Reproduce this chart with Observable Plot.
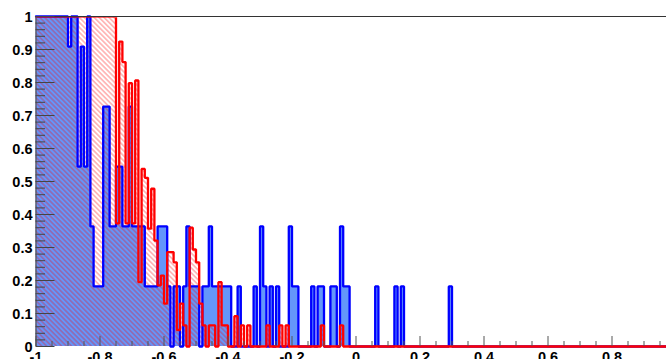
<!DOCTYPE html>
<html><head><meta charset="utf-8">
<script src="https://cdn.jsdelivr.net/npm/d3@7"></script>
<script src="https://cdn.jsdelivr.net/npm/@observablehq/plot@0.6"></script>
<style>
html,body{margin:0;padding:0;background:#fff;overflow:hidden}
#chart svg{display:block}
</style></head><body><div id="chart"></div>
<script>
// Histogram binning: 200 bins of width 0.01 from -1 to 1
const binStart = -1;
const binWidth = 0.01;

// Blue histogram (filled), bin contents
const blue = [
  1,1,1,1,1,1,1,1,1,1, 0.909,1,1,0.545,0.909,0.545,1,0.364,0.182,0.182,
  0.182,0.727,0.727,0.364,0.364,0.545,0.545,0.364,0.364,0.727, 0.364,0.364,0.364,0.364,0.182,0.182,0.182,0.182,0.364,0.364,
  0.364,0.182,0,0.182,0.182,0,0.182,0.364,0.182,0.182, 0.182,0,0.182,0.182,0.364,0.182,0.182,0.182,0.182,0.182,
  0.182,0,0,0.182,0,0,0,0,0.182,0, 0.364,0.182,0,0.182,0,0.182,0,0,0,0.364,
  0.182,0.182,0,0,0,0,0.182,0,0.182,0.182, 0,0,0.182,0.182,0,0.364,0.182,0.182,0,0,
  0,0,0,0,0,0,0.182,0,0,0, 0,0,0.182,0,0.182,0,0,0,0,0,
  0,0,0,0,0,0,0,0,0,0.182, 0,0,0,0,0,0,0,0,0,0,
  0,0,0,0,0,0,0,0,0,0, 0,0,0,0,0,0,0,0,0,0,
  0,0,0,0,0,0,0,0,0,0, 0,0,0,0,0,0,0,0,0,0,
  0,0,0,0,0,0,0,0,0,0, 0,0,0,0,0,0,0,0,0,0
];

// Red histogram (hatched), bin contents
const red = [
  1,1,1,1,1,1,1,1,1,1, 1,1,1,1,1,1,1,1,1,1,
  1,1,1,1,1,0.373,0.924,0.862,0.373,0.798, 0.373,0.806,0.195,0.538,0.511,0.357,0.478,0.321,0.185,0.215,
  0.13,0.286,0.286,0.255,0.05,0.13,0.064,0,0.36,0.294, 0.255,0.13,0.064,0,0.064,0.064,0,0.195,0.064,0.064,
  0,0,0.092,0,0.064,0,0.064,0,0,0, 0,0,0.064,0,0,0,0.064,0,0.064,0,
  0,0,0,0,0,0,0,0,0,0.064, 0,0,0,0,0,0.064,0,0,0,0,
  0,0,0,0,0,0,0,0,0,0, 0,0,0,0,0,0,0,0,0,0,
  0,0,0,0,0,0,0,0,0,0, 0,0,0,0,0,0,0,0,0,0,
  0,0,0,0,0,0,0,0,0,0, 0,0,0,0,0,0,0,0,0,0,
  0,0,0,0,0,0,0,0,0,0, 0,0,0,0,0,0,0,0,0,0,
  0,0,0,0,0,0,0,0,0,0, 0,0,0,0,0,0,0,0,0,0
];

// Axis ticks and labels
const yMajor = [0,0.1,0.2,0.3,0.4,0.5,0.6,0.7,0.8,0.9,1];
const yLabels = ["0","0.1","0.2","0.3","0.4","0.5","0.6","0.7","0.8","0.9","1"];
const yMinor = [0.02,0.04,0.06,0.08,0.12,0.14,0.16,0.18,0.22,0.24,0.26,0.28,0.32,0.34,0.36,0.38,0.42,0.44,0.46,0.48,0.52,0.54,0.56,0.58,0.62,0.64,0.66,0.68,0.72,0.74,0.76,0.78,0.82,0.84,0.86,0.88,0.92,0.94,0.96,0.98];
const xMajor = [-1,-0.8,-0.6,-0.4,-0.2,0,0.2,0.4,0.6,0.8];
const xLabels = ["-1","-0.8","-0.6","-0.4","-0.2","0","0.2","0.4","0.6","0.8"];
const xMinor = [-0.95,-0.9,-0.85,-0.75,-0.7,-0.65,-0.55,-0.5,-0.45,-0.35,-0.3,-0.25,-0.15,-0.1,-0.05,0.05,0.1,0.15,0.25,0.3,0.35,0.45,0.5,0.55,0.65,0.7,0.75,0.85,0.9,0.95];

function steps(vals) {
  const pts = vals.map((v, i) => ({x: binStart + i * binWidth, y: v}));
  pts.push({x: binStart + vals.length * binWidth, y: vals[vals.length - 1]});
  return pts;
}
const bluePts = steps(blue);
const redPts = steps(red);

// Layout: the y scale maps [0,1] to [346,16]; the clipping frame starts just
// below the top edge so the red outline is hidden there, as in the reference.
const W = 666, H = 359, mL = 35.5, mT = 17.3, mB = 5, mR = 0;
const yBottom = 346, yTop = 16;
const frameW = W - mL - mR, frameBottom = H - mB;
const font = "'Liberation Sans', Arial, Helvetica, sans-serif";

const svg = Plot.plot({
  width: W, height: H,
  marginLeft: mL, marginRight: mR, marginTop: mT, marginBottom: mB,
  style: {background: "white", fontFamily: font},
  x: {domain: [-1, 1], range: [mL, mL + 640], axis: null},
  y: {domain: [0, 1], range: [yBottom, yTop], axis: null},
  marks: [
    Plot.areaY(bluePts, {x: "x", y: "y", curve: "step-after", fill: "rgb(100,150,250)"}),
    Plot.areaY(redPts, {x: "x", y: "y", curve: "step-after", fill: "url(#hatch)"}),
    Plot.line(bluePts, {x: "x", y: "y", curve: "step-after", stroke: "#0000ff", strokeWidth: 2.3, strokeLinejoin: "miter"}),
    Plot.line(redPts, {x: "x", y: "y", curve: "step-after", stroke: "#ff0000", strokeWidth: 2.3, strokeLinejoin: "miter", clip: true}),
    Plot.ruleY([1], {stroke: "#333", strokeWidth: 1.2}),
    Plot.ruleX([-1], {y1: 0, y2: 1, stroke: "#555", strokeWidth: 1.2}),
    Plot.tickY(yMajor, {y: d => d, insetRight: frameW - 19, stroke: "#444", strokeWidth: 1}),
    Plot.tickY(yMinor, {y: d => d, insetRight: frameW - 9.5, stroke: "#444", strokeWidth: 1}),
    Plot.tickX(xMajor, {x: d => d, insetBottom: frameBottom - yBottom, insetTop: yBottom - 10 - mT, stroke: "#555", strokeWidth: 1}),
    Plot.tickX(xMinor, {x: d => d, insetBottom: frameBottom - yBottom, insetTop: yBottom - 5 - mT, stroke: "#555", strokeWidth: 1}),
    Plot.text(yMajor, {y: d => d, text: (d, i) => yLabels[i], frameAnchor: "left", textAnchor: "end", dx: -3.5, dy: 1, fontSize: 14.5, fontWeight: "bold", fill: "black"}),
    Plot.text(xMajor, {x: d => d, text: (d, i) => xLabels[i], frameAnchor: "bottom", lineAnchor: "top", dy: yBottom + 5 - frameBottom, fontSize: 14.5, fontWeight: "bold", fill: "black"})
  ]
});

const ns = "http://www.w3.org/2000/svg";
function el(name, attrs) {
  const e = document.createElementNS(ns, name);
  for (const k in attrs) e.setAttribute(k, attrs[k]);
  return e;
}
const defs = el("defs", {});
const pattern = el("pattern", {id: "hatch", patternUnits: "userSpaceOnUse", width: 3.5, height: 3.5, patternTransform: "rotate(45)"});
pattern.appendChild(el("line", {x1: -1, y1: 1.75, x2: 4.5, y2: 1.75, stroke: "#ff0000", "stroke-width": 0.8, "stroke-opacity": 0.62}));
defs.appendChild(pattern);
svg.insertBefore(defs, svg.firstChild);
document.getElementById("chart").appendChild(svg);
</script>
</body></html>
